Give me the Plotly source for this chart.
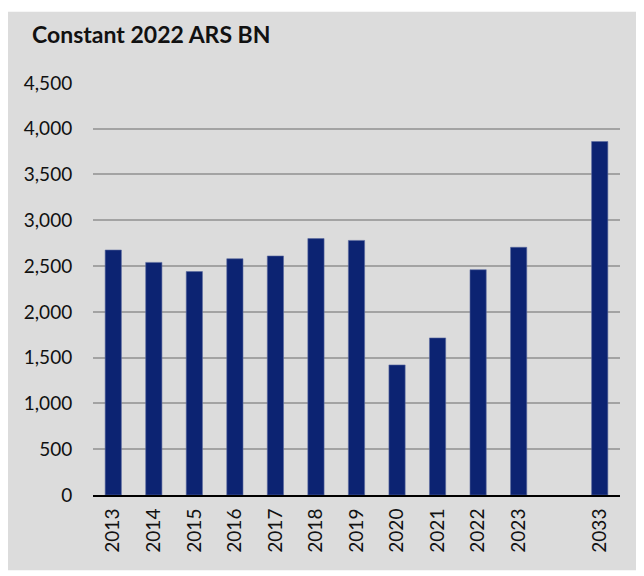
import plotly.graph_objects as go

# Spending in constant 2022 ARS billions; blank slot separates the 2033 projection
years = ['2013', '2014', '2015', '2016', '2017', '2018', '2019',
         '2020', '2021', '2022', '2023', ' ', '2033']
values = [2675, 2540, 2440, 2580, 2610, 2800, 2780,
          1420, 1715, 2460, 2705, None, 3860]
y_ticks = [0, 500, 1000, 1500, 2000, 2500, 3000, 3500, 4000, 4500]

BAR_NAVY = '#0c2372'
PANEL_GREY = '#dcdcdc'
FONT = 'Lato'

fig = go.Figure(go.Bar(
    x=years,
    y=values,
    marker=dict(color=BAR_NAVY, line=dict(color='#5a6aa0', width=0.6)),
    width=0.4,
    hovertemplate='%{x}: %{y:,}<extra></extra>',
))

# grey panel behind everything, leaving a thin white strip at the top
fig.add_shape(
    type='rect', xref='paper', yref='paper',
    x0=-0.165, x1=1.07, y0=-0.182, y1=1.17,
    fillcolor=PANEL_GREY, line=dict(width=0), layer='below',
)

fig.update_layout(
    width=644,
    height=576,
    paper_bgcolor='white',
    plot_bgcolor=PANEL_GREY,
    showlegend=False,
    margin=dict(l=85, r=32, t=74, b=89),
    font=dict(family=FONT, size=19, color='#111111'),
    title=dict(
        text='<b>Constant 2022 ARS BN</b>',
        x=24 / 644, xanchor='left', xref='container',
        y=1 - 27 / 576, yanchor='middle', yref='container',
        font=dict(family=FONT, size=23, color='#111111'),
    ),
    xaxis=dict(
        type='category',
        categoryorder='array',
        categoryarray=years,
        tickangle=-90,
        showline=True,
        linecolor='black',
        linewidth=2,
        showgrid=False,
        ticks='outside',
        ticklen=4,
        tickcolor='rgba(0,0,0,0)',
    ),
    yaxis=dict(
        range=[0, 4510],
        tickvals=y_ticks,
        tickformat=',',
        showgrid=True,
        gridcolor='#a3a3a3',
        gridwidth=1.5,
        zeroline=False,
        showline=False,
        ticks='outside',
        ticklen=16,
        tickcolor='rgba(0,0,0,0)',
    ),
)

fig.write_html('out.html')
